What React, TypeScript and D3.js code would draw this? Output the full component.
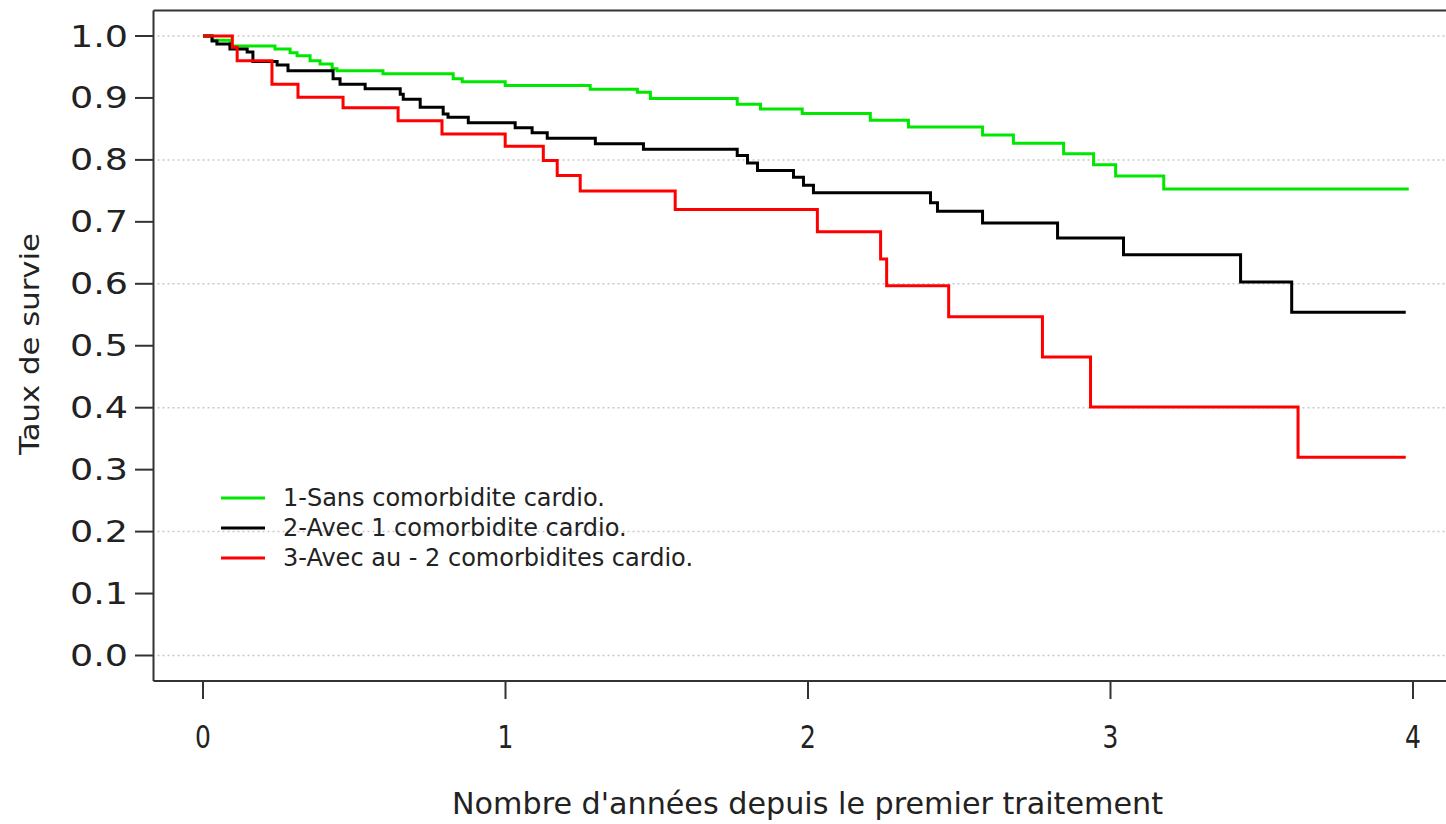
import React from "react";
import * as d3 from "d3";

// ---- data ----
const xTicks = [0, 1, 2, 3, 4];
const yTicks = [0, 0.1, 0.2, 0.3, 0.4, 0.5, 0.6, 0.7, 0.8, 0.9, 1.0];
const gridTicks = [0, 0.2, 0.4, 0.6, 0.8, 1.0];

const legendLabels = [
  "1-Sans comorbidite cardio.",
  "2-Avec 1 comorbidite cardio.",
  "3-Avec au - 2 comorbidites cardio.",
];
const seriesColors = ["#00e800", "#000000", "#ff0000"];

const greenTimes = [0, 0.03, 0.09, 0.238, 0.288, 0.311, 0.354, 0.387, 0.427, 0.443, 0.595, 0.827, 0.857, 0.999, 1.28, 1.436, 1.479, 1.766, 1.843, 1.981, 2.206, 2.332, 2.577, 2.679, 2.845, 2.944, 3.017, 3.176, 3.986];
const greenSurv = [1.0, 0.993, 0.984, 0.979, 0.973, 0.968, 0.96, 0.955, 0.947, 0.944, 0.939, 0.931, 0.926, 0.92, 0.914, 0.909, 0.899, 0.89, 0.882, 0.875, 0.864, 0.853, 0.84, 0.827, 0.81, 0.792, 0.774, 0.753, 0.753];

const blackTimes = [0, 0.03, 0.046, 0.089, 0.146, 0.165, 0.245, 0.281, 0.43, 0.453, 0.536, 0.652, 0.662, 0.718, 0.794, 0.81, 0.877, 1.032, 1.088, 1.138, 1.297, 1.456, 1.766, 1.8, 1.833, 1.952, 1.985, 2.018, 2.405, 2.428, 2.577, 2.825, 3.043, 3.43, 3.599, 3.976];
const blackSurv = [1.0, 0.992, 0.987, 0.979, 0.974, 0.959, 0.953, 0.944, 0.931, 0.922, 0.915, 0.906, 0.898, 0.885, 0.874, 0.869, 0.86, 0.852, 0.844, 0.835, 0.826, 0.817, 0.807, 0.795, 0.783, 0.772, 0.759, 0.747, 0.731, 0.717, 0.698, 0.674, 0.647, 0.603, 0.554, 0.554];

const redTimes = [0, 0.097, 0.113, 0.228, 0.314, 0.463, 0.645, 0.79, 0.999, 1.125, 1.171, 1.247, 1.561, 2.031, 2.24, 2.26, 2.465, 2.775, 2.934, 3.62, 3.976];
const redSurv = [1.0, 0.982, 0.96, 0.922, 0.901, 0.884, 0.863, 0.842, 0.822, 0.799, 0.775, 0.75, 0.72, 0.684, 0.64, 0.597, 0.547, 0.482, 0.401, 0.32, 0.32];

const seriesTimes = [greenTimes, blackTimes, redTimes];
const seriesSurv = [greenSurv, blackSurv, redSurv];

export default function App() {
  const W = 1446;
  const H = 824;
  const x = d3.scaleLinear().domain([0, 4]).range([203, 1413]);
  const y = d3.scaleLinear().domain([0, 1]).range([655.5, 36]);
  const boxLeft = 153.5;
  const boxTop = 10.5;
  const boxBottom = 681;

  const line = d3
    .line<[number, number]>()
    .x((d) => x(d[0]))
    .y((d) => y(d[1]))
    .curve(d3.curveStepAfter);

  const axisColor = "#333";

  return (
    <svg
      width={W}
      height={H}
      style={{ position: "absolute", left: 0, top: 0, background: "#fff" }}
      fontFamily="DejaVu Sans"
    >
      <rect x={0} y={0} width={W} height={H} fill="#fff" />
      {/* grid */}
      {gridTicks.map((t) => (
        <line
          key={"g" + t}
          x1={boxLeft + 4}
          x2={W}
          y1={y(t)}
          y2={y(t)}
          stroke="#c8c8c8"
          strokeWidth={1.5}
          strokeDasharray="2,3"
        />
      ))}
      {/* curves */}
      {seriesTimes.map((ts, i) => {
        const pts: [number, number][] = ts.map((t, j) => [t, seriesSurv[i][j]]);
        return (
          <path
            key={"c" + i}
            d={line(pts) || ""}
            fill="none"
            stroke={seriesColors[i]}
            strokeWidth={3}
            strokeLinejoin="miter"
          />
        );
      })}
      {/* box */}
      <line x1={boxLeft} x2={boxLeft} y1={boxTop} y2={boxBottom} stroke={axisColor} strokeWidth={2} />
      <line x1={boxLeft} x2={W} y1={boxTop} y2={boxTop} stroke={axisColor} strokeWidth={2} />
      <line x1={boxLeft} x2={W} y1={boxBottom} y2={boxBottom} stroke={axisColor} strokeWidth={2} />
      {/* y ticks */}
      {yTicks.map((t) => (
        <g key={"y" + t}>
          <line x1={135} x2={boxLeft} y1={y(t)} y2={y(t)} stroke={axisColor} strokeWidth={2} />
          <text
            x={128}
            y={y(t)}
            textAnchor="end"
            dominantBaseline="central"
            fontSize={30}
            fill="#222"
            textLength={58}
            lengthAdjust="spacingAndGlyphs"
          >
            {t.toFixed(1)}
          </text>
        </g>
      ))}
      {/* x ticks */}
      {xTicks.map((t) => (
        <g key={"x" + t} transform={`translate(${x(t)},0)`}>
          <line x1={0} x2={0} y1={boxBottom} y2={699} stroke={axisColor} strokeWidth={2} />
          <g transform="translate(0,748) scale(0.78,1)">
            <text x={0} y={0} textAnchor="middle" fontSize={32} fill="#222">
              {t}
            </text>
          </g>
        </g>
      ))}
      {/* axis titles */}
      <text
        x={452}
        y={814}
        fontSize={30}
        fill="#222"
        textLength={711}
        lengthAdjust="spacingAndGlyphs"
      >
        Nombre d'années depuis le premier traitement
      </text>
      <g transform="translate(39,344) rotate(-90)">
        <text
          x={-111}
          y={0}
          fontSize={27}
          fill="#222"
          textLength={222}
          lengthAdjust="spacingAndGlyphs"
        >
          Taux de survie
        </text>
      </g>
      {/* legend */}
      {legendLabels.map((lab, i) => (
        <g key={"l" + i} transform={`translate(0,${498 + i * 30})`}>
          <line x1={221} x2={265} y1={0} y2={0} stroke={seriesColors[i]} strokeWidth={3} />
          <text x={283} y={0} dominantBaseline="central" fontSize={24} fill="#222">
            {lab}
          </text>
        </g>
      ))}
    </svg>
  );
}
